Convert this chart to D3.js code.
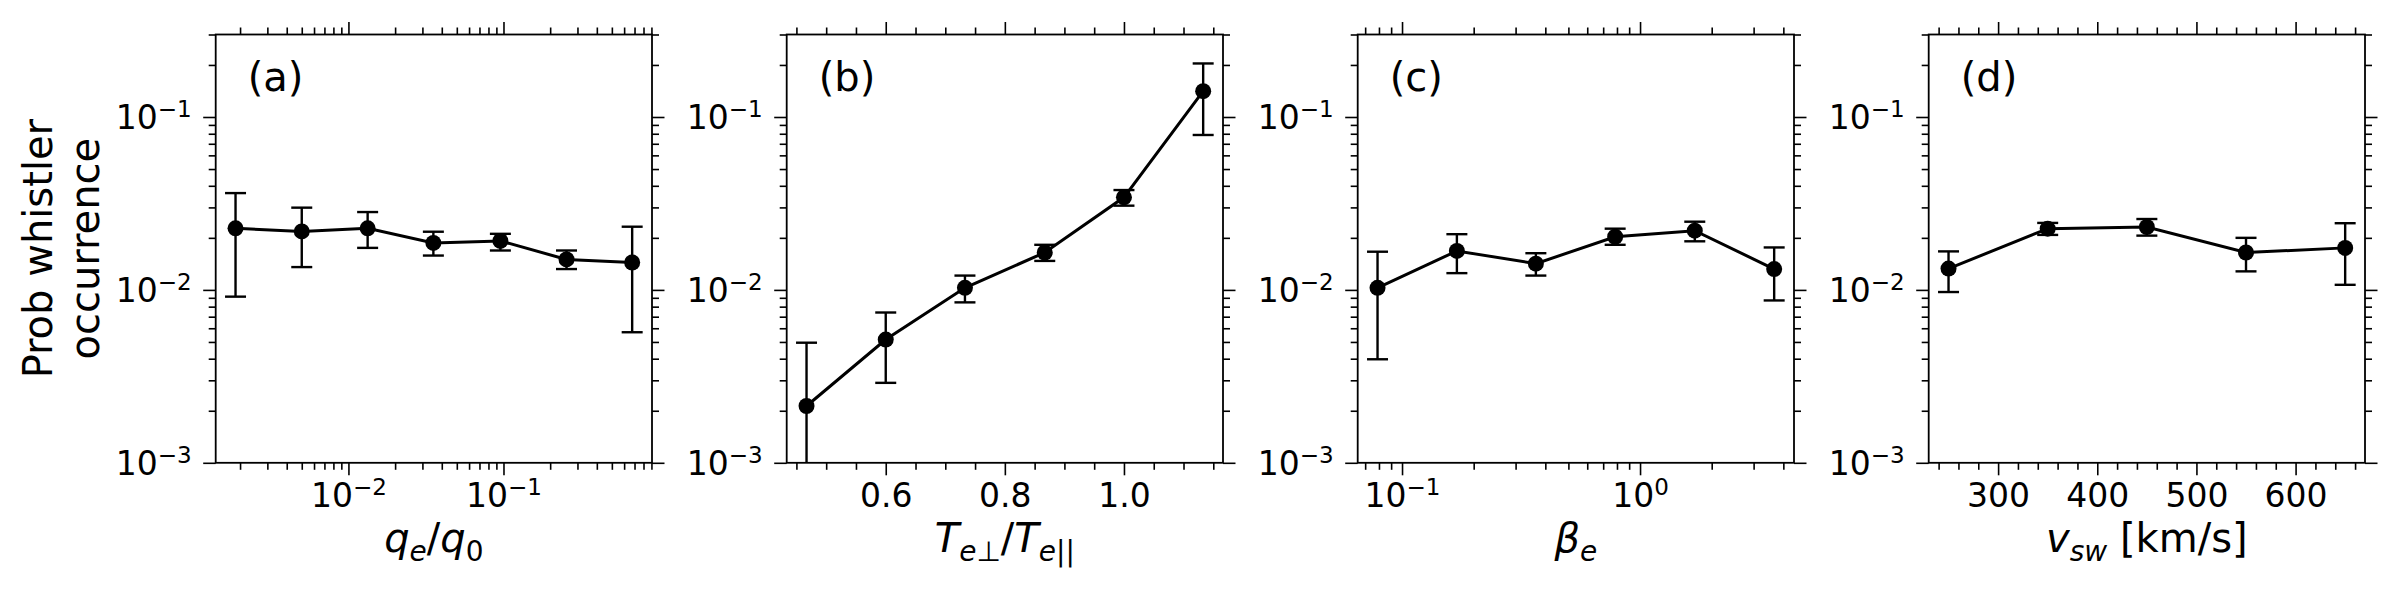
<!DOCTYPE html>
<html>
<head>
<meta charset="utf-8">
<script src="https://cdn.jsdelivr.net/npm/d3@7"></script>
<style>
  body { margin: 0; background: #fff; }
  text { font-family: "DejaVu Sans", sans-serif; fill: #000; }
</style>
</head>
<body>
<svg id="chart" width="2400" height="600"></svg>
<script>
// (a) heat flux q_e/q_0
const qeX  = [0.00187, 0.0050, 0.0133, 0.0353, 0.0955, 0.255, 0.676];
const qeP  = [0.0227, 0.0218, 0.0227, 0.0187, 0.0192, 0.0150, 0.0144];
const qeLo = [0.00914, 0.01355, 0.0175, 0.0158, 0.0169, 0.0132, 0.00569];
const qeHi = [0.0363, 0.0299, 0.0282, 0.0217, 0.0211, 0.0169, 0.0232];

// (b) temperature anisotropy
const anX  = [0.467, 0.600, 0.733, 0.867, 1.000, 1.133];
const anP  = [0.00213, 0.00516, 0.01028, 0.01645, 0.0343, 0.141];
const anLo = [0, 0.0029, 0.00847, 0.01471, 0.0307, 0.0787];
const anHi = [0.00495, 0.0074, 0.0121, 0.01823, 0.0378, 0.204];

// (c) electron beta
const beX  = [0.0789, 0.170, 0.365, 0.786, 1.698, 3.66];
const beP  = [0.01028, 0.0168, 0.01418, 0.0203, 0.0220, 0.0132];
const beLo = [0.00397, 0.0125, 0.0121, 0.01823, 0.0191, 0.00869];
const beHi = [0.01663, 0.0210, 0.0163, 0.0226, 0.0248, 0.0176];

// (d) solar wind speed
const vsX  = [250, 350, 450, 550, 650];
const vsP  = [0.01328, 0.0226, 0.0231, 0.01645, 0.0175];
const vsLo = [0.00972, 0.0208, 0.0206, 0.0128, 0.0107];
const vsHi = [0.0167, 0.0244, 0.0257, 0.0200, 0.0243];

const yTicks = [1e-3, 1e-2, 1e-1];
const tags = ['(a)', '(b)', '(c)', '(d)'];

const LEFTS = [215.7, 786.7, 1357.7, 1928.7];
const PW = 436.3, TOP = 34.5, PH = 428.3;
const TICK = 12.5, MINOR = 7, FS = 33, LFS = 40;

const svg = d3.select('#chart');
svg.append('rect').attr('width', 2400).attr('height', 600).attr('fill', '#fff');

const logMinors = (d0, d1) => {
  const out = [];
  for (let e = Math.floor(Math.log10(d0)); e <= Math.ceil(Math.log10(d1)); e++)
    for (let k = 2; k <= 9; k++) {
      const v = k * Math.pow(10, e);
      if (v >= d0 * 0.999 && v <= d1 * 1.001) out.push(v);
    }
  return out;
};
const linMinors = (d0, d1, step, major) => {
  const out = [];
  for (let v = Math.ceil(d0 / step) * step; v <= d1; v += step)
    if (!major.some(m => Math.abs(m - v) < step / 10)) out.push(+v.toFixed(6));
  return out;
};

// "10" with a superscript exponent
const powLabel = (sel, v) => {
  const e = Math.round(Math.log10(v));
  sel.text(null);
  sel.append('tspan').text('10');
  sel.append('tspan').attr('dy', -12).attr('font-size', 23).text(e < 0 ? '\u2212' + (-e) : String(e));
};

// mixed italic / subscript label
const richText = (sel, parts, size) => {
  let cur = 0;
  parts.forEach(([t, s]) => {
    const sub = s[0] === 's';
    const off = sub ? 8.5 : 0;
    sel.append('tspan').attr('dy', off - cur)
      .attr('font-size', sub ? size * 0.7 : size)
      .attr('font-style', s.endsWith('i') ? 'italic' : 'normal')
      .text(t);
    cur = off;
  });
};

const panels = [
  { x: qeX, p: qeP, lo: qeLo, hi: qeHi, log: true, major: [0.01, 0.1],
    label: [['q', 'i'], ['e', 'si'], ['/', 'r'], ['q', 'i'], ['0', 'sr']] },
  { x: anX, p: anP, lo: anLo, hi: anHi, log: false, major: [0.6, 0.8, 1.0], step: 0.05, fmt: d3.format('.1f'),
    label: [['T', 'i'], ['e', 'si'], ['\u22A5', 'sr'], ['/', 'r'], ['T', 'i'], ['e', 'si'], ['||', 'sr']] },
  { x: beX, p: beP, lo: beLo, hi: beHi, log: true, major: [0.1, 1],
    label: [['\u03B2', 'i'], ['e', 'si']] },
  { x: vsX, p: vsP, lo: vsLo, hi: vsHi, log: false, major: [300, 400, 500, 600], step: 20, fmt: d3.format('d'),
    label: [['v', 'i'], ['sw', 'si'], [' [km/s]', 'r']] }
];

const y = d3.scaleLog().domain([1e-3, 0.3]).range([PH, 0]);
const yMinor = logMinors(1e-3, 0.3);

panels.forEach((P, i) => {
  const g = svg.append('g').attr('transform', `translate(${LEFTS[i]},${TOP})`);

  // 5% margins on the x data range, like matplotlib
  let x;
  if (P.log) {
    const l0 = Math.log10(d3.min(P.x)), l1 = Math.log10(d3.max(P.x)), m = (l1 - l0) * 0.05;
    x = d3.scaleLog().domain([Math.pow(10, l0 - m), Math.pow(10, l1 + m)]).range([0, PW]);
  } else {
    const a = d3.min(P.x), b = d3.max(P.x), m = (b - a) * 0.05;
    x = d3.scaleLinear().domain([a - m, b + m]).range([0, PW]);
  }
  const [d0, d1] = x.domain();
  const xMinor = P.log ? logMinors(d0, d1) : linMinors(d0, d1, P.step, P.major);

  const axes = [
    [d3.axisBottom, x, `translate(0,${PH})`, true],
    [d3.axisTop, x, 'translate(0,0)', false],
    [d3.axisLeft, y, 'translate(0,0)', true],
    [d3.axisRight, y, `translate(${PW},0)`, false]
  ];
  axes.forEach(([fn, sc, tr, labels]) => {
    const isX = sc === x;
    const maj = isX ? P.major : yTicks;
    const mnr = isX ? xMinor : yMinor;
    g.append('g').attr('transform', tr)
      .call(fn(sc).tickValues(mnr).tickSize(MINOR).tickFormat(''))
      .call(s => s.select('.domain').remove())
      .call(s => s.selectAll('line').attr('stroke-width', 1.6));
    const ax = g.append('g').attr('transform', tr)
      .call(fn(sc).tickValues(maj).tickSize(TICK).tickFormat(labels ? (isX && !P.log ? P.fmt : d => d) : ''))
      .call(s => s.select('.domain').remove())
      .call(s => s.selectAll('line').attr('stroke-width', 1.6));
    ax.selectAll('text').attr('font-size', FS).attr('font-family', 'DejaVu Sans').attr('fill', '#000');
    if (!labels) return;
    if (isX) {
      ax.selectAll('text').attr('y', 44.5).attr('dy', null);
      if (P.log) ax.selectAll('text').each(function (d) { powLabel(d3.select(this), d); });
    } else {
      ax.selectAll('text').attr('x', -24).attr('dy', 11.5)
        .each(function (d) { powLabel(d3.select(this), d); });
    }
  });

  g.append('rect').attr('width', PW).attr('height', PH)
    .attr('fill', 'none').attr('stroke', '#000').attr('stroke-width', 1.8);

  const yc = v => y(Math.max(v, 1e-3));
  const idx = d3.range(P.x.length);

  g.append('g').selectAll('line.err').data(idx).join('line')
    .attr('x1', k => x(P.x[k])).attr('x2', k => x(P.x[k]))
    .attr('y1', k => yc(P.lo[k])).attr('y2', k => yc(P.hi[k]))
    .attr('stroke', '#000').attr('stroke-width', 2.4);
  const caps = idx.flatMap(k => [[k, P.hi[k]], [k, P.lo[k]]]).filter(c => c[1] >= 1e-3);
  g.append('g').selectAll('line.cap').data(caps).join('line')
    .attr('x1', c => x(P.x[c[0]]) - 10.5).attr('x2', c => x(P.x[c[0]]) + 10.5)
    .attr('y1', c => y(c[1])).attr('y2', c => y(c[1]))
    .attr('stroke', '#000').attr('stroke-width', 2.4);

  g.append('path').datum(idx)
    .attr('d', d3.line().x(k => x(P.x[k])).y(k => y(P.p[k])))
    .attr('fill', 'none').attr('stroke', '#000').attr('stroke-width', 3);
  g.append('g').selectAll('circle').data(idx).join('circle')
    .attr('cx', k => x(P.x[k])).attr('cy', k => y(P.p[k])).attr('r', 8).attr('fill', '#000');

  g.append('text').attr('x', 32).attr('y', 56.5).attr('font-size', LFS).text(tags[i]);

  g.append('text').attr('x', PW / 2).attr('y', PH + 89.5).attr('text-anchor', 'middle')
    .attr('font-size', LFS).call(s => richText(s, P.label, LFS));
});

// shared y label, two lines
const yl = svg.append('g').attr('transform', `translate(0,${TOP + PH / 2}) rotate(-90)`);
yl.append('text').attr('y', 51.7).attr('text-anchor', 'middle').attr('font-size', LFS).text('Prob whistler');
yl.append('text').attr('y', 99.3).attr('text-anchor', 'middle').attr('font-size', LFS).text('occurrence');
</script>
</body>
</html>
